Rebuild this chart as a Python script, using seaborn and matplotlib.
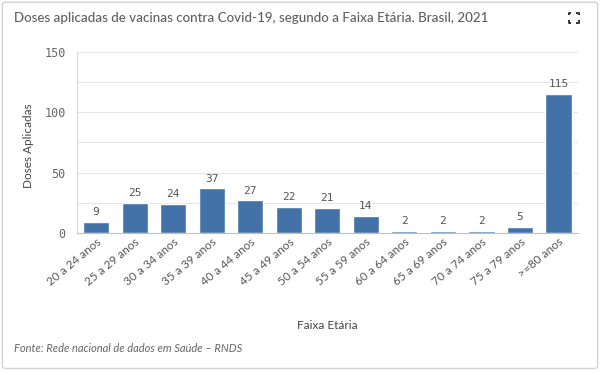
import matplotlib
matplotlib.use("Agg")
import matplotlib.pyplot as plt
import seaborn as sns
import pandas as pd
from matplotlib.patches import FancyBboxPatch
from matplotlib.lines import Line2D

categories = ["20 a 24 anos", "25 a 29 anos", "30 a 34 anos", "35 a 39 anos",
              "40 a 44 anos", "45 a 49 anos", "50 a 54 anos", "55 a 59 anos",
              "60 a 64 anos", "65 a 69 anos", "70 a 74 anos", "75 a 79 anos",
              ">=80 anos"]
values = [9, 25, 24, 37, 27, 22, 21, 14, 2, 2, 2, 5, 115]
y_ticks = [0, 50, 100, 150]

title = "Doses aplicadas de vacinas contra Covid-19, segundo a Faixa Etária. Brasil, 2021"
x_label = "Faixa Etária"
y_label = "Doses Aplicadas"
source = "Fonte: Rede nacional de dados em Saúde \u2013 RNDS"

df = pd.DataFrame({"faixa": categories, "doses": values})

sns.set_theme(style="white")
plt.rcParams['font.family'] = ['Lato', 'DejaVu Sans']

fig = plt.figure(figsize=(6.0, 3.73), dpi=100)
fig.patch.set_facecolor("white")

# card border
card = FancyBboxPatch((0.004, 0.012), 0.992, 0.982, boxstyle="round,pad=0,rounding_size=0.006",
                      transform=fig.transFigure, facecolor="white", edgecolor="#d4d4d4",
                      linewidth=1.0, zorder=-10)
fig.patches.append(card)

ax = fig.add_axes([0.128, 0.375, 0.835, 0.486])
sns.barplot(data=df, x="faixa", y="doses", color="#4272a8", saturation=1,
            width=0.68, ax=ax)

ax.set_ylim(0, 150)
ax.set_xlim(-0.5, len(categories) - 0.5)
ax.set_yticks(y_ticks)
ax.set_yticklabels([str(t) for t in y_ticks],
                   family="DejaVu Sans Mono", fontsize=8.5, color="#666666")
for g in [25, 50, 75, 100, 125, 150]:
    ax.axhline(g, color="#e6e6e6", lw=0.8, zorder=0)
ax.tick_params(axis="y", length=5, width=0.8, color="#cccccc", pad=3)
ax.tick_params(axis="x", length=0, pad=2)
ax.set_xticks(range(len(categories)))
ax.set_xticklabels(categories, rotation=40, ha="right", rotation_mode="anchor",
                   fontsize=8.5, color="#555555")

for sp in ["top", "right"]:
    ax.spines[sp].set_visible(False)
ax.spines["left"].set_color("#d9d9d9")
ax.spines["bottom"].set_color("#bfbfbf")
ax.spines["left"].set_linewidth(0.8)
ax.spines["bottom"].set_linewidth(0.8)

for i, v in enumerate(values):
    ax.text(i, v + 4, str(v), ha="center", va="bottom", fontsize=8,
            family="DejaVu Sans Mono", color="#555555")

ax.set_xlabel("")
ax.set_ylabel("")
fig.text(0.047, 0.61, y_label, rotation=90, ha="center", va="center",
         fontsize=8.5, color="#444444")
fig.text(0.545, 0.128, x_label, ha="center", va="center", fontsize=8.5, color="#444444")
fig.text(0.023, 0.067, source, ha="left", va="center", fontsize=8,
         style="italic", color="#666666")
fig.text(0.023, 0.953, title, ha="left", va="center", fontsize=9.6, color="#606060",
         fontweight="medium")

# fullscreen icon drawn as four corner brackets
cx, cy = 573.5, 373 - 17.5
h, a = 5.0, 2.5
for sx in (-1, 1):
    for sy in (-1, 1):
        x0, y0 = cx + sx * h, cy + sy * h
        fig.add_artist(Line2D([x0 / 600, x0 / 600, (x0 - sx * a) / 600],
                              [(y0 - sy * a) / 373, y0 / 373, y0 / 373],
                              transform=fig.transFigure, color="#333333", lw=1.4,
                              solid_capstyle="butt"))

fig.savefig("out.png", dpi=100, facecolor="white")
